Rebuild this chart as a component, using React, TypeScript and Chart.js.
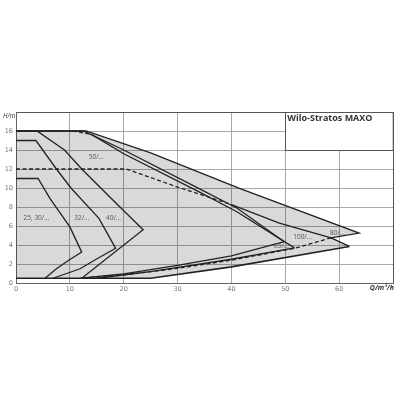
import React, { useEffect, useRef } from 'react';
import { Chart, registerables } from 'chart.js';

Chart.register(...registerables);

// Q in m³/h, H in m
const qTicks = [0, 10, 20, 30, 40, 50, 60, 70];
const hTicks = [0, 2, 4, 6, 8, 10, 12, 14, 16, 18];

const curve25 = [[0, 11], [4.1, 11], [6.3, 8.9], [10, 5.9], [12.2, 3.25], [9.8, 2.4], [7.5, 1.5], [5.4, 0.5]];
const curve32 = [[0, 15], [3.7, 15], [7.5, 12], [10.2, 10], [15.4, 6.8], [18.5, 3.65], [15.2, 2.6], [11.9, 1.5], [6.9, 0.5]];
const curve40 = [[0, 16], [3.9, 16], [9, 14], [12.2, 12], [19.3, 8], [23.6, 5.6], [12.2, 0.5]];
const max50 = [[0, 16], [12.5, 16], [20, 14], [34, 9.94], [41, 7.9], [49.8, 4.35]];
const min50 = [[12, 0.5], [20, 0.95], [30, 1.85], [40, 2.85], [49.8, 4.35]];
const max65 = [[14, 15.65], [20, 13.6], [34, 9.6], [41, 7.5], [51.7, 3.7]];
const max65Dashed = [[10.5, 16], [14, 15.65]];
const min65 = [[15, 0.5], [25, 1.2], [40, 2.5], [51.7, 3.7]];
const max80 = [[0, 16], [13, 16], [25, 13.7], [41.5, 9.95], [63.7, 5.25], [58.5, 4.75]];
const min80Dashed = [[58.5, 4.75], [51.7, 3.65], [40, 2.4], [30, 1.55], [20, 0.85], [12, 0.5]];
const max100Dashed = [[0, 12], [20.5, 12], [30, 10.1], [40, 8.25]];
const max100 = [[40, 8.25], [48.9, 6.3], [58.5, 4.75], [61.9, 3.85]];
const min100 = [[0, 0.5], [25, 0.5], [40, 1.7], [61.9, 3.85]];

const pumpLabels = ['25, 30/...', '32/...', '40/...', '50/...', '65/...', '100/...', '80/...'];
const pumpLabelQ = [3.8, 12.2, 18.1, 14.9, 49.3, 53.2, 59.7];
const pumpLabelH = [6.8, 6.8, 6.8, 13.2, 3.9, 4.8, 5.3];

const toPts = (arr) => arr.map(([x, y]) => ({ x, y }));

// envelope of all pump ranges, used for the grey area
const envelope = [...max80, max100[max100.length - 1], ...[...min100].reverse()];

const overlayPlugin = {
  id: 'overlay',
  afterDatasetsDraw(chart) {
    const { ctx, scales } = chart;
    const x = scales.x;
    const y = scales.y;
    ctx.save();

    // title box
    const bx0 = x.getPixelForValue(50);
    const bx1 = x.getPixelForValue(70);
    const by0 = y.getPixelForValue(18);
    const by1 = y.getPixelForValue(14);
    ctx.fillStyle = '#fff';
    ctx.fillRect(bx0, by0, bx1 - bx0, by1 - by0);
    ctx.strokeStyle = '#555';
    ctx.lineWidth = 1;
    ctx.strokeRect(Math.round(bx0) + 0.5, Math.round(by0) + 0.5, bx1 - bx0, by1 - by0);
    ctx.fillStyle = '#333';
    ctx.font = 'bold 9px "Open Sans"';
    ctx.textAlign = 'left';
    ctx.textBaseline = 'middle';
    ctx.fillText('Wilo-Stratos MAXO', bx0 + 2, by0 + 6);

    // pump labels
    ctx.fillStyle = '#555';
    ctx.font = '6.5px "Open Sans"';
    ctx.textAlign = 'center';
    pumpLabels.forEach((t, i) => {
      ctx.fillText(t, x.getPixelForValue(pumpLabelQ[i]), y.getPixelForValue(pumpLabelH[i]));
    });

    // axis titles
    ctx.fillStyle = '#333';
    ctx.font = 'italic 6.5px "Open Sans"';
    ctx.textAlign = 'left';
    ctx.fillText('H/m', 3, y.getPixelForValue(18) + 4);
    ctx.font = 'bold italic 7px "Open Sans"';
    ctx.textAlign = 'right';
    ctx.fillText('Q/m³/h', x.getPixelForValue(70) + 1, y.getPixelForValue(0) + 5);
    ctx.restore();
  },
};

const lineSet = (data, dashed = false, width = 1.3) => ({
  data: toPts(data),
  showLine: true,
  borderColor: '#222',
  borderWidth: width,
  borderDash: dashed ? [4, 2.5] : [],
  pointRadius: 0,
  fill: false,
  tension: 0,
  order: 0,
});

export default function App() {
  const canvasRef = useRef(null);

  useEffect(() => {
    if (!canvasRef.current) return;
    const chart = new Chart(canvasRef.current, {
      type: 'scatter',
      data: {
        datasets: [
          {
            data: toPts(envelope),
            showLine: true,
            borderWidth: 0,
            borderColor: 'rgba(0,0,0,0)',
            backgroundColor: 'rgba(0,0,0,0.15)',
            pointRadius: 0,
            fill: 'shape',
            tension: 0,
            order: 1,
          },
          lineSet(curve25),
          lineSet(curve32),
          lineSet(curve40),
          lineSet(max50),
          lineSet(min50),
          lineSet(max65),
          lineSet(max65Dashed, true),
          lineSet(min65),
          lineSet(max80),
          lineSet(min80Dashed, true),
          lineSet(max100Dashed, true),
          lineSet(max100),
          lineSet(min100, false, 1.6),
        ],
      },
      options: {
        animation: false,
        responsive: false,
        layout: { padding: { left: 0, top: 112, right: 7, bottom: 105 } },
        plugins: { legend: { display: false }, tooltip: { enabled: false } },
        scales: {
          x: {
            type: 'linear',
            min: 0,
            max: 70,
            afterBuildTicks: (s) => { s.ticks = qTicks.map((v) => ({ value: v })); },
            afterFit: (s) => { s.height = 12; },
            ticks: {
              callback: (v) => (v === 70 ? '' : String(v)),
              color: '#777',
              font: { family: 'DejaVu Sans', size: 6.5 },
              padding: 2,
              maxRotation: 0,
            },
            grid: {
              drawTicks: false,
              color: (c) => (c.tick && c.tick.value === 70 ? '#555' : '#a8a8a8'),
            },
            border: { color: '#666', width: 1 },
          },
          y: {
            type: 'linear',
            min: 0,
            max: 18,
            afterBuildTicks: (s) => { s.ticks = hTicks.map((v) => ({ value: v })); },
            afterFit: (s) => { s.width = 16; },
            ticks: {
              callback: (v) => (v === 18 ? '' : String(v)),
              color: '#777',
              font: { family: 'DejaVu Sans', size: 6.5 },
              padding: 3,
            },
            grid: {
              drawTicks: false,
              color: (c) => (c.tick && c.tick.value === 18 ? '#555' : '#a8a8a8'),
            },
            border: { color: '#666', width: 1 },
          },
        },
      },
      plugins: [overlayPlugin],
    });
    return () => chart.destroy();
  }, []);

  return (
    <div style={{ position: 'absolute', left: 0, top: 0, width: 400, height: 400, background: '#fff' }}>
      <canvas ref={canvasRef} width={400} height={400}></canvas>
    </div>
  );
}
